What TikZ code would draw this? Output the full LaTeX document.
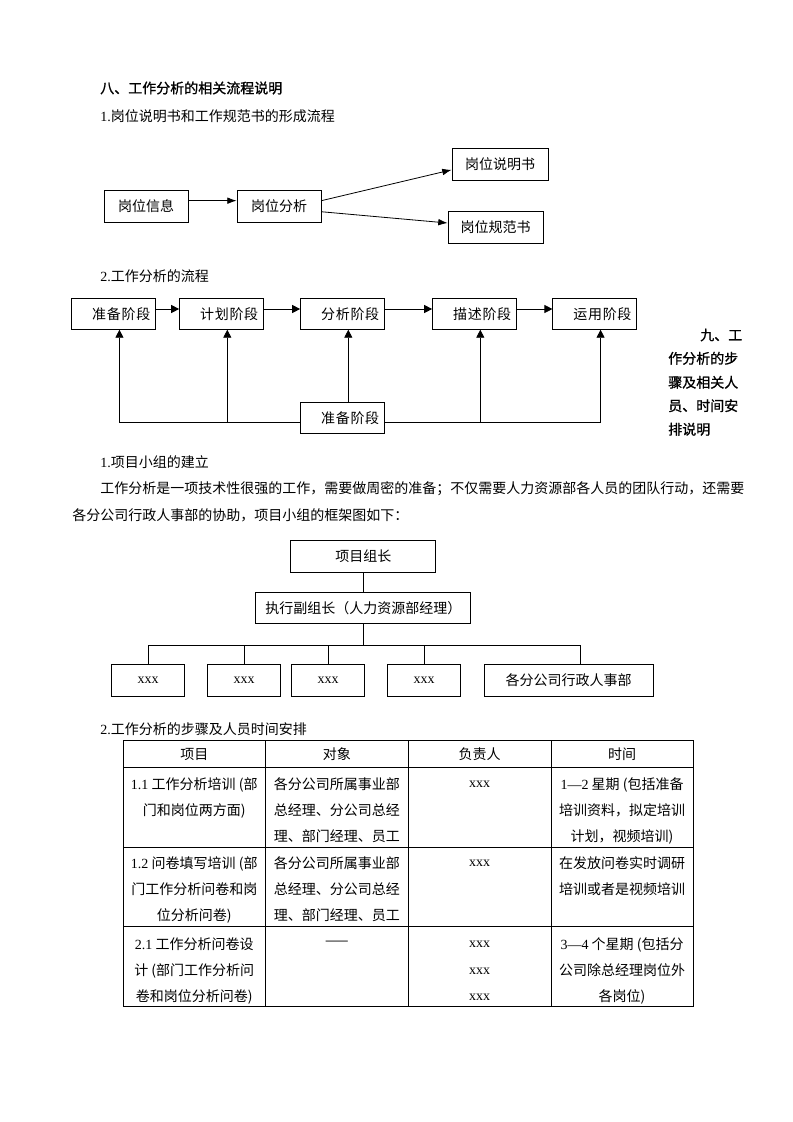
\documentclass[tikz,border=0pt]{standalone}
\usepackage{fontspec}
\setmainfont{Noto Sans CJK SC}
\newfontfamily\latin{Liberation Serif}
\newfontfamily\headfont[FakeBold=1]{Noto Sans CJK SC}
\usepackage{tikz}
\usetikzlibrary{shapes,arrows.meta,positioning}
\XeTeXlinebreaklocale "zh"
\XeTeXlinebreakskip=0pt plus 1pt
\newcommand{\bodyfont}{\fontsize{10.5pt}{19.5pt}\selectfont}

\begin{document}
\begin{tikzpicture}[x=0.75pt, y=-0.75pt, font=\bodyfont]
        \tikzstyle{block} = [rectangle, draw, line width=0.6pt, minimum height=24pt, inner sep=0pt, text centered]
        \tikzstyle{stage} = [rectangle, draw, line width=0.6pt, minimum height=23.25pt, text width=55pt, inner xsep=4pt, inner ysep=0pt, align=right]
        \tikzstyle{line} = [draw, line width=0.6pt, -{Latex[length=7pt, width=5pt]}]
        \tikzstyle{flow} = [draw, line width=0.6pt, -{Triangle[length=6pt, width=6pt]}]
        \tikzstyle{link} = [draw, line width=0.6pt]
        \tikzstyle{txt} = [anchor=west, inner sep=0pt]
        \tikzstyle{cell} = [anchor=north, inner sep=0pt, align=center]

    \fill [white] (0,0) rectangle (793,1122);
    \useasboundingbox (0,0) rectangle (793,1122);

    \node [txt, font={\headfont\bodyfont}] (title8) at (100,88) {八、工作分析的相关流程说明};
    \node [txt] (sub1) at (100,116) {{\latin 1.}岗位说明书和工作规范书的形成流程};

    \node [block, minimum width=63pt] (info) at (146,206) {岗位信息};
    \node [block, minimum width=63pt, right of=info, node distance=99.75pt] (analyse) {岗位分析};
    \node [block, minimum width=72pt] (postdesc) at (500,164.5) {岗位说明书};
    \node [block, minimum width=71.25pt] (postspec) at (495.5,227) {岗位规范书};

    \path [line] ([yshift=4pt]info.east) -- ([yshift=4pt]analyse.west);
    \path [line] ([yshift=4pt]analyse.east) -- ([yshift=-4pt]postdesc.west);
    \path [line] ([yshift=-4.3pt]analyse.east) -- ([yshift=3pt]postspec.west);

    \node [txt] (sub2) at (100,276) {{\latin 2.}工作分析的流程};
    \node [stage] (prep) at (113.7,313.8) {准备阶段};
    \node [stage, right of=prep, node distance=80.9pt] (plan) {计划阶段};
    \node [stage, right of=plan, node distance=90.75pt] (anal) {分析阶段};
    \node [stage, right of=anal, node distance=99pt] (descr) {描述阶段};
    \node [stage, right of=descr, node distance=90.2pt] (apply) {运用阶段};
    \node [stage, below of=anal, node distance=78.4pt] (base) {准备阶段};

    \path [flow] ([yshift=3.6pt]prep.east) -- ([yshift=3.6pt]plan.west);
    \path [flow] ([yshift=3.6pt]plan.east) -- ([yshift=3.6pt]anal.west);
    \path [flow] ([yshift=3.6pt]anal.east) -- ([yshift=3.6pt]descr.west);
    \path [flow] ([yshift=3.6pt]descr.east) -- ([yshift=3.6pt]apply.west);

    \coordinate (busL) at ([yshift=-2.8pt]base.west);
    \coordinate (busR) at ([yshift=-2.8pt]base.east);
    \coordinate (fprep) at ([xshift=4.3pt]prep.south);
    \coordinate (fplan) at ([xshift=4.3pt]plan.south);
    \coordinate (fanal) at ([xshift=4.3pt]anal.south);
    \coordinate (fdescr) at ([xshift=4.3pt]descr.south);
    \coordinate (fapply) at ([xshift=4.3pt]apply.south);
    \path [flow] (busL) -| (fprep);
    \path [flow] (fplan |- busL) -- (fplan);
    \path [flow] (fanal |- base.north) -- (fanal);
    \path [flow] (busR) -| (fapply);
    \path [flow] (fdescr |- busR) -- (fdescr);

    \node [txt, font={\headfont\bodyfont}] (title9a) at (700,335) {九、工};
    \node [txt, font={\headfont\bodyfont}] (title9b) at (668,358.3) {作分析的步};
    \node [txt, font={\headfont\bodyfont}] (title9c) at (668,382.3) {骤及相关人};
    \node [txt, font={\headfont\bodyfont}] (title9d) at (668,405.7) {员、时间安};
    \node [txt, font={\headfont\bodyfont}] (title9e) at (668,429.3) {排说明};

    \node [txt] (sub3) at (100,462) {{\latin 1.}项目小组的建立};
    \node [txt] (para1) at (100,489) {\makebox[482.25pt][s]{工作分析是一项技术性很强的工作，需要做周密的准备；不仅需要人力资源部各人员的团队行动，还需要}};
    \node [txt] (para2) at (72,515) {各分公司行政人事部的协助，项目小组的框架图如下：};

    \node [block, minimum width=108.75pt] (lead) at (363.3,556) {项目组长};
    \node [block, minimum width=161.25pt, minimum height=23.25pt, below of=lead, node distance=39pt] (vice) {执行副组长（人力资源部经理）};
    \node [block, minimum width=54.75pt] (mem1) at (148,680) {\latin xxx};
    \node [block, minimum width=54.75pt] (mem2) at (244,680) {\latin xxx};
    \node [block, minimum width=54.75pt] (mem3) at (328,680) {\latin xxx};
    \node [block, minimum width=54.75pt] (mem4) at (424,680) {\latin xxx};
    \node [block, minimum width=126.75pt] (branch) at (568.5,680) {各分公司行政人事部};
    \coordinate (hub) at (363.3,645);
    \coordinate (brtop) at ([xshift=9pt]branch.north);

    \path [link] (lead) -- (vice);
    \path [link] (vice) -- (hub);
    \path [link] (mem1) |- (hub);
    \path [link] (mem2) -- (mem2 |- hub);
    \path [link] (mem3) -- (mem3 |- hub);
    \path [link] (mem4) -- (mem4 |- hub);
    \path [link] (brtop) |- (hub);

    \node [txt] (sub4) at (100,729) {{\latin 2.}工作分析的步骤及人员时间安排};
    % table grid
    \draw [line width=0.6pt] (123,740) rectangle (693,1006.5);
    \draw [line width=0.6pt] (123,767.5) -- (693,767.5);
    \draw [line width=0.6pt] (123,847) -- (693,847);
    \draw [line width=0.6pt] (123,926.5) -- (693,926.5);
    \draw [line width=0.6pt] (265.5,740) -- (265.5,1006.5);
    \draw [line width=0.6pt] (408,740) -- (408,1006.5);
    \draw [line width=0.6pt] (551,740) -- (551,1006.5);

    \node (hItem) at (194.25,754) {项目};
    \node (hTarget) at (336.75,754) {对象};
    \node (hLead) at (479.5,754) {负责人};
    \node (hTime) at (622,754) {时间};

    \node [cell] (r1item) at (194.25,777) {{\latin 1.1} 工作分析培训 (部\\门和岗位两方面)};
    \node [cell] (r1obj) at (336.75,777) {各分公司所属事业部\\总经理、分公司总经\\理、部门经理、员工};
    \node (r1lead) at (479.5,784) {\latin xxx};
    \node [cell] (r1time) at (622,777) {{\latin 1—2} 星期 (包括准备\\培训资料，拟定培训\\计划，视频培训)};

    \node [cell] (r2item) at (194.25,856) {{\latin 1.2} 问卷填写培训 (部\\门工作分析问卷和岗\\位分析问卷)};
    \node [cell] (r2obj) at (336.75,856) {各分公司所属事业部\\总经理、分公司总经\\理、部门经理、员工};
    \node (r2lead) at (479.5,863) {\latin xxx};
    \node [cell] (r2time) at (622,856) {在发放问卷实时调研\\培训或者是视频培训};

    \node [cell] (r3item) at (194.25,937) {{\latin 2.1} 工作分析问卷设\\计 (部门工作分析问\\卷和岗位分析问卷)};
    \node (r3obj) at (336.75,943) {——};
    \node (r3leadA) at (479.5,944) {\latin xxx};
    \node (r3leadB) at (479.5,971) {\latin xxx};
    \node (r3leadC) at (479.5,997) {\latin xxx};
    \node [cell] (r3time) at (622,937) {{\latin 3—4} 个星期 (包括分\\公司除总经理岗位外\\各岗位)};
    \end{tikzpicture}
\end{document}
